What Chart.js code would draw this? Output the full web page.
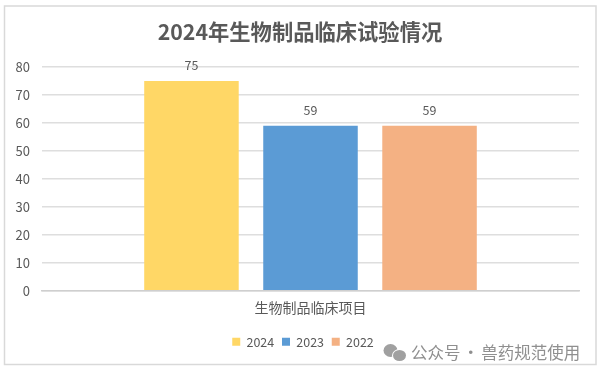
<!DOCTYPE html>
<html><head><meta charset="utf-8">
<style>
html,body{margin:0;padding:0;background:#fff}
#wrap{position:relative;width:600px;height:376px;overflow:hidden}
canvas{display:block}
#mark{position:absolute;left:411px;top:340px;font:16.5px/24px "Noto Sans CJK SC";color:#8f8f8f;white-space:nowrap;word-spacing:-1.6px}
</style>
<script src="https://cdn.jsdelivr.net/npm/chart.js@4"></script>
</head><body>
<div id="wrap"><canvas id="c" width="600" height="376"></canvas><div id="mark">公众号 · 兽药规范使用</div></div>
<script>
const categories = ['生物制品临床项目'];
const seriesNames = ['2024', '2023', '2022'];
const values2024 = [75];
const values2023 = [59];
const values2022 = [59];
const seriesColors = ['#FFD766', '#5B9BD5', '#F4B183'];
const titleText = '2024年生物制品临床试验情况';
const FONT = '"Noto Sans CJK SC","Noto Sans",sans-serif';

const frame = {
  id: 'frame',
  afterLayout(chart) {
    chart.legend.left += 13.5;
    chart.legend.right += 13.5;
    chart.titleBlock.left += 10.5;
    chart.titleBlock.right += 10.5;
  },
  beforeDraw(chart) {
    const g = chart.ctx;
    g.save();
    g.fillStyle = '#fff';
    g.fillRect(0, 0, 600, 376);
    g.strokeStyle = '#d9d9d9';
    g.lineWidth = 1.5;
    g.strokeRect(4.5, 6, 591.5, 358.5);
    g.restore();
  },
  afterDraw(chart) {
    const g = chart.ctx;
    g.save();
    g.fillStyle = '#a0a0a0';
    g.beginPath(); g.ellipse(390.5, 350.5, 7, 6.5, 0, 0, Math.PI * 2); g.fill();
    g.fillStyle = '#fff';
    g.beginPath(); g.ellipse(399.5, 355.5, 7.5, 6.5, 0, 0, Math.PI * 2); g.fill();
    g.fillStyle = '#a0a0a0';
    g.beginPath(); g.ellipse(399.5, 355.5, 6.5, 5.5, 0, 0, Math.PI * 2); g.fill();
    g.restore();
  }
};
const barLabels = {
  id: 'barLabels',
  afterDatasetsDraw(chart) {
    const g = chart.ctx;
    g.save();
    g.font = '12.5px ' + FONT;
    g.fillStyle = '#595959';
    g.textAlign = 'center';
    g.textBaseline = 'middle';
    chart.data.datasets.forEach((ds, i) => {
      chart.getDatasetMeta(i).data.forEach((el, j) => {
        g.fillText(String(ds.data[j]), el.x, el.y - 15.5);
      });
    });
    g.restore();
  }
};

new Chart(document.getElementById('c'), {
  type: 'bar',
  plugins: [frame, barLabels],
  data: {
    labels: categories,
    datasets: [
      { label: seriesNames[0], data: values2024, backgroundColor: seriesColors[0] },
      { label: seriesNames[1], data: values2023, backgroundColor: seriesColors[1] },
      { label: seriesNames[2], data: values2022, backgroundColor: seriesColors[2] }
    ]
  },
  options: {
    responsive: false,
    animation: false,
    layout: { padding: { left: 0, right: 21, top: 0, bottom: 18 } },
    datasets: { bar: { categoryPercentage: 0.665, barPercentage: 0.794 } },
    scales: {
      x: {
        grid: { display: false, drawTicks: false },
        border: { color: '#cfcfcf', width: 1.5 },
        ticks: { color: '#595959', font: { family: FONT, size: 14 }, padding: 9 },
        afterFit(s) { s.height = 37; }
      },
      y: {
        min: 0, max: 80,
        ticks: { stepSize: 10, color: '#595959', font: { family: FONT, size: 13 }, padding: 12 },
        grid: { color: '#dedede', lineWidth: 1.5, drawTicks: false },
        border: { display: false },
        afterFit(s) { s.width = 42; }
      }
    },
    plugins: {
      title: {
        display: true, text: titleText, color: '#595959',
        font: { family: FONT, size: 21.3, weight: 'bold' },
        padding: { top: 19, bottom: 22.5 }
      },
      legend: {
        position: 'bottom', align: 'center',
        labels: { boxWidth: 8, boxHeight: 8, padding: 7.75, color: '#595959', font: { family: FONT, size: 12.5 } }
      },
      tooltip: { enabled: false }
    }
  }
});
</script>
</body></html>
